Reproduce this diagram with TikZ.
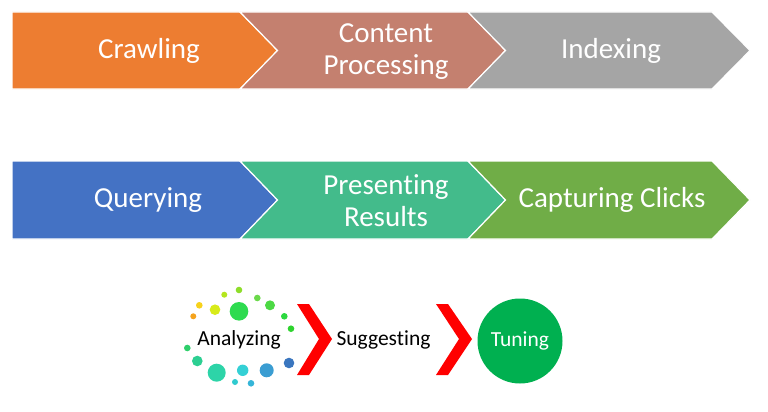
\documentclass[tikz,border=0pt]{standalone}
\usepackage{fontspec}
\setmainfont{Carlito}[Ligatures=NoCommon]
\definecolor{cOrange}{HTML}{ED7D31}
\definecolor{cRose}{HTML}{C4806F}
\definecolor{cGray}{HTML}{A5A5A5}
\definecolor{cBlue}{HTML}{4472C4}
\definecolor{cTeal}{HTML}{43BB8B}
\definecolor{cGreen}{HTML}{70AD47}
\definecolor{cRed}{HTML}{FF0000}
\definecolor{cTune}{HTML}{00B050}
\begin{document}
\begin{tikzpicture}[x=1pt,y=-1pt,
  arrowbox/.style={draw=white,line width=1.2pt,line join=miter},
  bigtxt/.style={text=white,font=\fontsize{29}{32}\selectfont,align=center,inner sep=0pt},
  smalltxt/.style={font=\fontsize{21.5}{24}\selectfont,inner sep=0pt},
  chev/.style={fill=cRed},
  dot/.style={circle,inner sep=0pt,minimum size=#1}]
\useasboundingbox (0,0) rectangle (768,412);
\fill[white] (0,0) rectangle (768,412);
% row 1
\path[arrowbox,fill=cOrange] (12,12) -- (240,12) -- (277.5,50.5) -- (240,89) -- (12,89) -- cycle;
\path[arrowbox,fill=cRose] (240,12) -- (468,12) -- (505.5,50.5) -- (468,89) -- (240,89) -- (277.5,50.5) -- cycle;
\path[arrowbox,fill=cGray] (468,12) -- (712,12) -- (750,50.5) -- (712,89) -- (468,89) -- (505.5,50.5) -- cycle;
\node[bigtxt] (crawl) at (149,50.5) {Crawling};
\node[bigtxt] (content) at (386,52) {Content\\Processing};
\node[bigtxt] (index) at (611,50.5) {Indexing};
% row 2
\path[arrowbox,fill=cBlue] (12,161) -- (240,161) -- (277.5,200) -- (240,239) -- (12,239) -- cycle;
\path[arrowbox,fill=cTeal] (240,161) -- (468,161) -- (505.5,200) -- (468,239) -- (240,239) -- (277.5,200) -- cycle;
\path[arrowbox,fill=cGreen] (468,161) -- (712,161) -- (750,200) -- (712,239) -- (468,239) -- (505.5,200) -- cycle;
\node[bigtxt] (query) at (148,200) {Querying};
\node[bigtxt] (present) at (386,201) {Presenting\\Results};
\node[bigtxt] (capture) at (612,200) {Capturing Clicks};
% bottom dots
\node[dot=6pt,fill={rgb,255:red,245;green,163;blue,29}] (d1) at (193.3,316.3) {};
\node[dot=6.6pt,fill={rgb,255:red,247;green,210;blue,27}] (d2) at (199.3,305.3) {};
\node[dot=10.6pt,fill={rgb,255:red,216;green,235;blue,26}] (d3) at (215,309.7) {};
\node[dot=6pt,fill={rgb,255:red,180;green,230;blue,30}] (d4) at (224.3,294.7) {};
\node[dot=6.6pt,fill={rgb,255:red,142;green,221;blue,42}] (d5) at (239,290) {};
\node[dot=18.6pt,fill={rgb,255:red,46;green,219;blue,80}] (d6) at (239,311.3) {};
\node[dot=6.6pt,fill={rgb,255:red,107;green,217;blue,74}] (d7) at (257.3,298) {};
\node[dot=10pt,fill={rgb,255:red,76;green,217;blue,68}] (d8) at (270,305.3) {};
\node[dot=6.6pt,fill={rgb,255:red,44;green,217;blue,63}] (d9) at (284.3,316.3) {};
\node[dot=6.6pt,fill={rgb,255:red,46;green,211;blue,46}] (d10) at (291,328.7) {};
\node[dot=6.6pt,fill={rgb,255:red,46;green,207;blue,107}] (d11) at (187.3,348) {};
\node[dot=10.6pt,fill={rgb,255:red,44;green,207;blue,146}] (d12) at (197.3,361) {};
\node[dot=18pt,fill={rgb,255:red,45;green,212;blue,168}] (d13) at (216.7,372.7) {};
\node[dot=6pt,fill={rgb,255:red,47;green,202;blue,207}] (d14) at (235,382) {};
\node[dot=11.4pt,fill={rgb,255:red,52;green,208;blue,213}] (d15) at (242.7,370.3) {};
\node[dot=6.6pt,fill={rgb,255:red,53;green,181;blue,216}] (d16) at (251,383.3) {};
\node[dot=14pt,fill={rgb,255:red,58;green,157;blue,210}] (d17) at (266.7,370.3) {};
\node[dot=10.6pt,fill={rgb,255:red,58;green,118;blue,191}] (d18) at (289,363) {};
\node[smalltxt] (analyze) at (239,340) {Analyzing};
% chevrons
\fill[chev] (297,304) -- (309,304) -- (332,339) -- (309,375) -- (297,375) -- (319,339) -- cycle;
\node[smalltxt] (suggest) at (383.5,340) {Suggesting};
\fill[chev] (436,304) -- (448,304) -- (472,339) -- (448,375) -- (436,375) -- (459,339) -- cycle;
\node[circle,fill=cTune,minimum size=85pt,inner sep=0pt] (tune) at (520,341) {};
\node[smalltxt,text=white] (tunetxt) at (tune) {Tuning};
\end{tikzpicture}
\end{document}
